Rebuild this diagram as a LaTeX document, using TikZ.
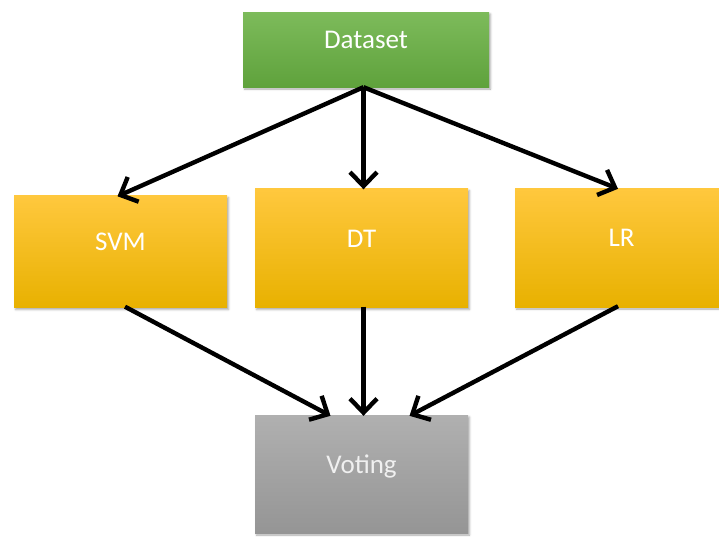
\documentclass[tikz,border=0pt]{standalone}
\usepackage{fontspec}
\setmainfont{Carlito}
\usetikzlibrary{arrows.meta,shadows.blur}

\definecolor{grnTop}{HTML}{7DBB5B}
\definecolor{grnBot}{HTML}{5FA23C}
\definecolor{ylwTop}{HTML}{FFC83E}
\definecolor{ylwMid}{HTML}{FFC000}
\definecolor{ylwBot}{HTML}{E8B100}
\definecolor{gryTop}{HTML}{B0B0B0}
\definecolor{gryBot}{HTML}{959595}

\tikzset{
  box/.style={rectangle, inner sep=0pt, text=white,
    font=\fontsize{27}{30}\selectfont,
    text height=12pt, text depth=13.5pt,
    blur shadow={shadow xshift=1.5pt, shadow yshift=-2pt,
      shadow blur steps=4, shadow blur radius=2pt, shadow opacity=35}},
  databox/.style={box, minimum width=246pt, minimum height=75pt,
    top color=grnTop, bottom color=grnBot},
  modelbox/.style={box, minimum width=213pt, minimum height=119pt,
    top color=ylwTop, middle color=ylwMid, bottom color=ylwBot},
  votebox/.style={box, minimum width=213pt, minimum height=118pt,
    top color=gryTop, bottom color=gryBot, text=white!94!black},
  flow/.style={line width=4.4pt, black,
    -{Straight Barb[length=14pt,width=27pt,line width=4.4pt]}}
}

\begin{document}
\begin{tikzpicture}[x=1pt,y=-1pt]
  \useasboundingbox (0,0) rectangle (719,536);
  \clip (0,0) rectangle (719,536);

  % boxes
  \node[databox]  (data) at (366,49.5)  {Dataset};
  \node[modelbox, minimum height=112pt] (svm) at (120.5,251.5) {SVM};
  \node[modelbox] (dt)   at (361.5,248) {DT};
  \node[modelbox] (lr)   at (621.5,247.5) {LR};
  \node[votebox]  (vote) at (361.5,474) {Voting};

  % fan-out from the dataset
  \coordinate (src) at ([xshift=-2.5pt]data.south);
  \draw[flow] (src) -- ([xshift=-3pt,yshift=-1pt]svm.north);
  \draw[flow] (src) -- ([xshift=2pt,yshift=-1pt]dt.north);
  \draw[flow] (src) -- ([xshift=-3.5pt,yshift=-1pt]lr.north);

  % fan-in to voting
  \draw[flow] ([xshift=4.5pt,yshift=1pt]svm.south) -- ([xshift=-31pt,yshift=-1pt]vote.north);
  \draw[flow] ([xshift=2pt,yshift=1pt]dt.south) -- ([xshift=2pt,yshift=-1pt]vote.north);
  \draw[flow] ([xshift=-3.5pt,yshift=1pt]lr.south) -- ([xshift=48pt,yshift=-1pt]vote.north);
\end{tikzpicture}
\end{document}
